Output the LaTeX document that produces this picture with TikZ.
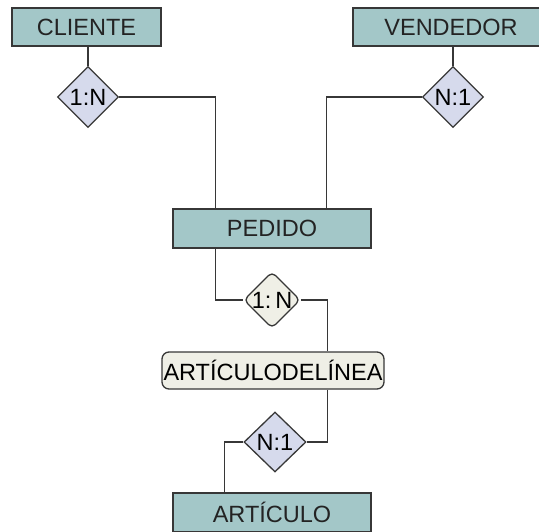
\documentclass[tikz,border=0pt]{standalone}
\usepackage{fontspec}
\setmainfont{Liberation Sans}
\usetikzlibrary{positioning, shapes.geometric, calc}
\definecolor{entcolor}{RGB}{163, 199, 200}
\definecolor{relcolor}{RGB}{214, 218, 236}
\definecolor{assoccolor}{RGB}{239, 239, 230}
\definecolor{edgecolor}{RGB}{55, 55, 55}
\definecolor{txtcolor}{RGB}{35, 35, 35}

\tikzset{
  entbox/.style={draw=edgecolor, fill=entcolor, line width=1.3pt,
                 minimum height=38pt, inner sep=0pt, text=txtcolor,
                 font=\fontsize{23.5}{27}\selectfont},
  relbox/.style={draw=edgecolor, fill=relcolor, line width=1.3pt,
                 diamond, aspect=1, inner sep=0pt, text=black,
                 minimum width=61pt, minimum height=61pt,
                 font=\fontsize{23.5}{27}\selectfont},
  link/.style={draw=edgecolor, line width=1.4pt}
}

\begin{document}
\begin{tikzpicture}[x=1pt, y=-1pt]
        \clip (0,0) rectangle (539,531);
        \node[entbox, minimum width=149pt] (cliente) at (86.5,27) {CLIENTE};
        \node[entbox, minimum width=196pt] (vendedor) at (451,27) {VENDEDOR};
        \node[entbox, minimum width=198pt, minimum height=39pt] (pedido) at (272,228.5) {PEDIDO};
        \node[draw=edgecolor, fill=assoccolor, line width=1.3pt, rounded corners=7pt,
              minimum width=222pt, minimum height=37pt, inner sep=0pt,
              font=\fontsize{23.5}{27}\selectfont] (lineitem) at (273,370.5)
              {ARTÍCULODELÍNEA};
        \node[entbox, minimum width=198pt, minimum height=39pt] (articulo) at (272,512.5) {ARTÍCULO};

        \node[relbox] (clirel) at (88,97) {1:N};
        \node[relbox] (venrel) at (453,97) {N:1};
        \node[relbox, fill=assoccolor, rounded corners=5pt,
              minimum width=56pt, minimum height=54pt] (pedrel) at (272,300) {1:\,N};
        \node[relbox, minimum width=62pt, minimum height=60pt] (artrel) at (275,442) {N:1};

        \draw[link] (clirel.north) -- (clirel.north |- cliente.south);
        \draw[link] (venrel.north) -- (venrel.north |- vendedor.south);
        \draw[link] (clirel.east) -| ([xshift=43pt]pedido.north west);
        \draw[link] (venrel.west) -| ([xshift=-45pt]pedido.north east);
        \draw[link] ([xshift=43pt]pedido.south west) |- (pedrel.west);
        \draw[link] (pedrel.east) -| ([xshift=-57pt]lineitem.north east);
        \draw[link] ([xshift=-57pt]lineitem.south east) |- (artrel.east);
        \draw[link] (artrel.west) -| ([xshift=52pt]articulo.north west);
      \end{tikzpicture}
\end{document}
